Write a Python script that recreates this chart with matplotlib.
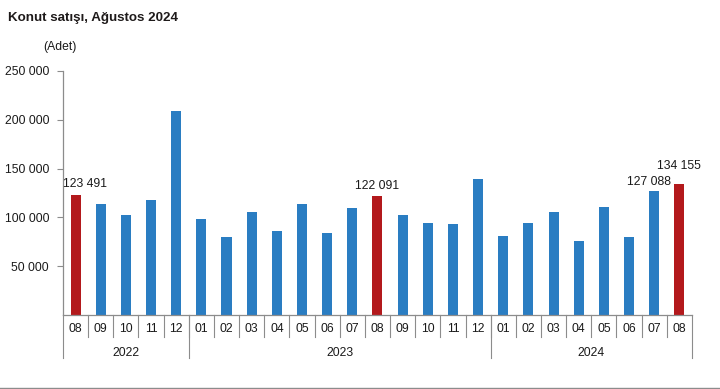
import matplotlib.pyplot as plt
import matplotlib.transforms as mtransforms
from matplotlib.lines import Line2D

plt.rcParams['font.family'] = ['Liberation Sans', 'DejaVu Sans']

months = ['08', '09', '10', '11', '12',
          '01', '02', '03', '04', '05', '06', '07', '08', '09', '10', '11', '12',
          '01', '02', '03', '04', '05', '06', '07', '08']
years = ['2022', '2023', '2024']
year_counts = [5, 12, 8]
sales = [123491, 113500, 102500, 117800, 209000,
         98000, 80000, 105500, 86000, 113700, 84000, 109600, 122091,
         102000, 94000, 93000, 139000,
         80600, 94000, 105200, 75500, 110300, 79600, 127088, 134155]
highlight = [0, 12, 24]
labeled = {0: (7, 3), 12: (0, 3), 23: (-4, 2), 24: (0, 9)}

blue = '#2A7DC2'
red = '#B3191C'
grey = '#8C8C8C'

fig = plt.figure(figsize=(7.2, 3.89), dpi=100)
ax = fig.add_axes([0.0875, 0.19, 0.8735, 0.6275])

x = list(range(len(sales)))
colors = [red if i in highlight else blue for i in x]
ax.bar(x, sales, width=0.4, color=colors, zorder=2)

for i, (dx, dy) in labeled.items():
    txt = f'{sales[i]:,}'.replace(',', ' ')
    ax.annotate(txt, (i, sales[i]), xytext=(dx, dy), textcoords='offset points',
                ha='center', va='bottom', fontsize=8.7, color='#1a1a1a')

ax.set_xlim(-0.5, len(sales) - 0.5)
ax.set_ylim(0, 250000)
ax.set_yticks([50000, 100000, 150000, 200000, 250000])
ax.set_yticklabels([f'{v:,}'.replace(',', ' ') for v in [50000, 100000, 150000, 200000, 250000]])
ax.tick_params(axis='y', length=4, width=0.8, color=grey, labelsize=8.7, pad=6, labelcolor='#1a1a1a')
ax.set_xticks([])

for s in ['top', 'right']:
    ax.spines[s].set_visible(False)
ax.spines['left'].set_color(grey)
ax.spines['bottom'].set_color(grey)
ax.spines['left'].set_linewidth(0.9)
ax.spines['bottom'].set_linewidth(0.9)

trans = mtransforms.blended_transform_factory(ax.transData, ax.transAxes)
# month separators
for i in range(len(sales) - 1):
    ax.plot([i + 0.5, i + 0.5], [0, -0.09], color=grey, lw=0.8, transform=trans, clip_on=False)
for i, m in enumerate(months):
    ax.text(i, -0.056, m, transform=trans, ha='center', va='center', fontsize=8.7, color='#1a1a1a')

# year separators and labels
start = -0.5
bounds = [start]
for c in year_counts:
    bounds.append(bounds[-1] + c)
for b in bounds:
    ax.plot([b, b], [0, -0.176], color=grey, lw=0.8, transform=trans, clip_on=False)
for y, a, b in zip(years, bounds[:-1], bounds[1:]):
    ax.text((a + b) / 2, -0.156, y, transform=trans, ha='center', va='center', fontsize=8.7, color='#1a1a1a')

fig.text(0.011, 0.953, 'Konut satışı, Ağustos 2024', fontsize=9.6, fontweight='bold',
         color='#1e1a1a', ha='left', va='center')
fig.text(0.06, 0.879, '(Adet)', fontsize=8.7, color='#1a1a1a', ha='left', va='center')

fig.add_artist(Line2D([0, 1], [0.002, 0.002], color=grey, lw=1.0, transform=fig.transFigure))

fig.savefig('out.png', dpi=100)
